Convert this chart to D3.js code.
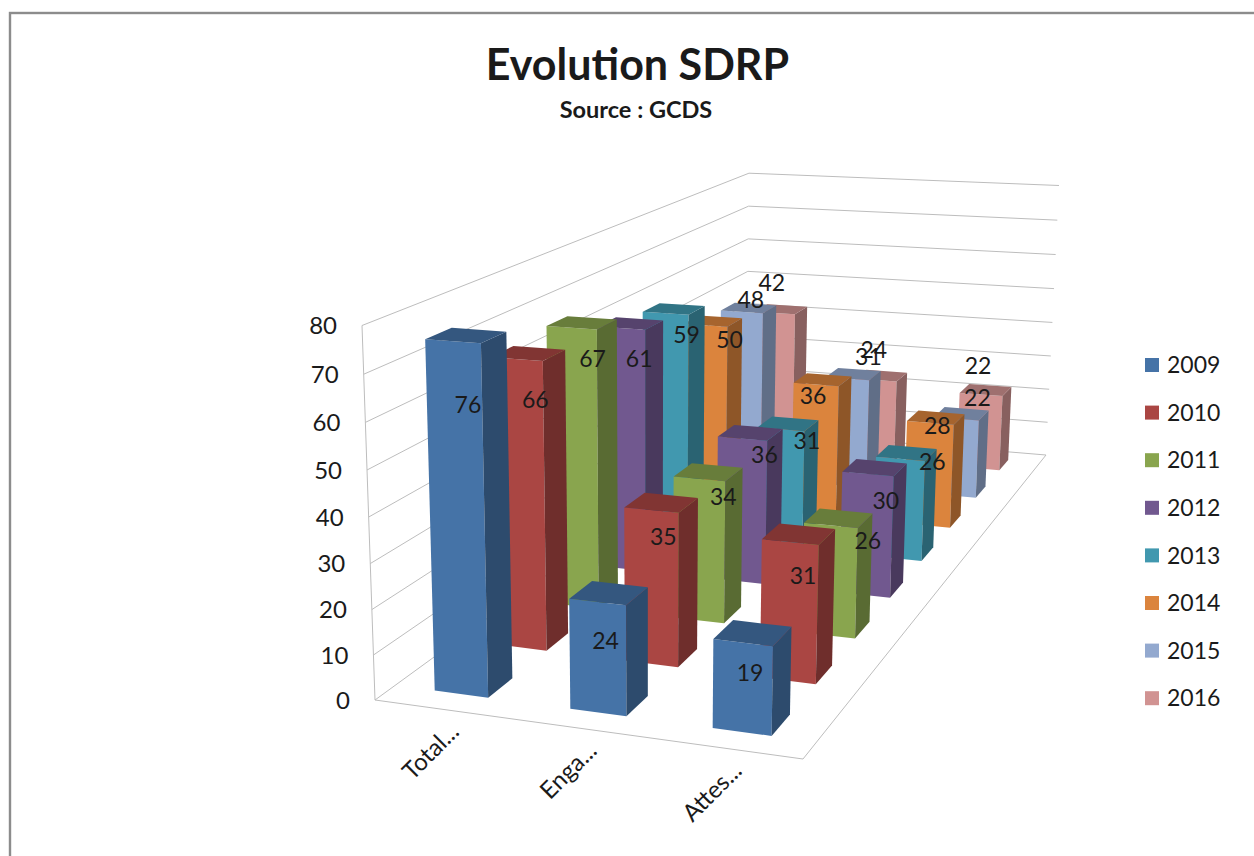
<!DOCTYPE html>
<html>
<head>
<meta charset="utf-8">
<script src="https://cdn.jsdelivr.net/npm/d3@7"></script>
<style>
  html, body { margin: 0; background: #fff; overflow: hidden; }
  text { font-family: Lato, "Noto Sans", sans-serif; fill: #1a1a1a; }
</style>
</head>
<body>
<div id="chart"></div>
<script>
const categories = ["Total...", "Enga...", "Attes..."];
const years = ["2009", "2010", "2011", "2012", "2013", "2014", "2015", "2016"];
const v2009 = [76, 24, 19];
const v2010 = [66, 35, 31];
const v2011 = [67, 34, 26];
const v2012 = [61, 36, 30];
const v2013 = [59, 31, 26];
const v2014 = [50, 36, 28];
const v2015 = [48, 31, 22];
const v2016 = [42, 24, 22];
const valueTicks = [0, 10, 20, 30, 40, 50, 60, 70, 80];
const colours = ["#4573a7", "#aa4643", "#89a54e", "#71588f", "#4198af", "#db843d", "#93a9cf", "#d19392"];

const seriesValues = [v2009, v2010, v2011, v2012, v2013, v2014, v2015, v2016];

// data labels are not centred on the bars in the original, offset from the bar top per year/category
const labelDx = [[15, 8, 7], [19, 12, 13], [21, 24, 37], [18, 22, 18], [21, 26, 32], [24, -3, 7], [9, 21, 21], [-3, -2, -3]];
const labelDy = [[64, 39, 30], [41, 27, 34], [31, 18, 15], [31, 16, 27], [22, 11, 3], [14, 11, 3], [-12, -22, -21], [-30, -30, -29]];

const width = 1254, height = 856;

const svg = d3.select("#chart").append("svg")
  .attr("width", width)
  .attr("height", height);

// outer chart frame, runs off the right and bottom of the picture
svg.append("rect")
  .attr("x", 10).attr("y", 13)
  .attr("width", width + 40).attr("height", height + 40)
  .attr("fill", "none")
  .attr("stroke", "#8c8c8c")
  .attr("stroke-width", 2.4);

// title
svg.append("text")
  .attr("x", 637.5).attr("y", 80)
  .attr("text-anchor", "middle")
  .attr("font-size", 43).attr("font-weight", 700)
  .text("Evolution SDRP");

svg.append("text")
  .attr("x", 636).attr("y", 118)
  .attr("text-anchor", "middle")
  .attr("font-size", 23.5).attr("font-weight", 700)
  .text("Source : GCDS");

// scales work in a unit box: u along the categories, w into the depth, h up
const uScale = d3.scaleBand().domain(categories).range([0, 1]).paddingInner(0.6).paddingOuter(0.3);
const wScale = d3.scaleBand().domain(years).range([0, 1]).paddingInner(0.6).paddingOuter(0.3);
const hScale = d3.scaleLinear().domain([0, 80]).range([0, 1]);

// the floor corners and the wall top give the perspective of the 3d box
const floorFL = [375, 700], floorFR = [803, 759], floorBR = [1046, 455], floorBL = [746, 430];
const wallTop = [362, 325.5];
const cH = -0.045;

const sx = floorFL[0] - floorFR[0] + floorBR[0] - floorBL[0],
  sy = floorFL[1] - floorFR[1] + floorBR[1] - floorBL[1],
  dx1 = floorFR[0] - floorBR[0],
  dx2 = floorBL[0] - floorBR[0],
  dy1 = floorFR[1] - floorBR[1],
  dy2 = floorBL[1] - floorBR[1],
  det = dx1 * dy2 - dx2 * dy1;
const cU = (sx * dy2 - dx2 * sy) / det,
  cW = (dx1 * sy - sx * dy1) / det;
const aU = floorFR[0] - floorFL[0] + cU * floorFR[0],
  aW = floorBL[0] - floorFL[0] + cW * floorBL[0],
  aH = wallTop[0] * (1 + cH) - floorFL[0],
  bU = floorFR[1] - floorFL[1] + cU * floorFR[1],
  bW = floorBL[1] - floorFL[1] + cW * floorBL[1],
  bH = wallTop[1] * (1 + cH) - floorFL[1];

function project(u, w, h) {
  const d = 1 + cU * u + cW * w + cH * h;
  return [
    (aU * u + aW * w + aH * h + floorFL[0]) / d,
    (bU * u + bW * w + bH * h + floorFL[1]) / d
  ];
}

const poly = pts => "M" + pts.map(p => p.join(",")).join("L") + "Z";
const shade = (c, k) => { const r = d3.rgb(c); return d3.rgb(r.r * k, r.g * k, r.b * k).formatHex(); };

// walls
const grid = svg.append("g")
  .attr("fill", "none")
  .attr("stroke", "#bdbdbd")
  .attr("stroke-width", 1);

grid.selectAll(".wall")
  .data(valueTicks)
  .join("path")
  .attr("class", "wall")
  .attr("d", t => {
    const h = hScale(t);
    return d3.line()([project(0, 0, h), project(0, 1, h), project(1, 1, h)]);
  });

grid.append("path").attr("d", d3.line()([project(0, 0, 1), project(0, 0, 0), project(1, 0, 0), project(1, 1, 0)]));

// value labels of the left wall
svg.selectAll(".tick")
  .data(valueTicks)
  .join("text")
  .attr("class", "tick")
  .attr("x", t => project(0, 0, hScale(t))[0] - 25)
  .attr("y", t => project(0, 0, hScale(t))[1])
  .attr("dy", "0.36em")
  .attr("text-anchor", "end")
  .attr("font-size", 24)
  .text(d => d);

// category labels
svg.selectAll(".cat")
  .data(categories)
  .join("text")
  .attr("class", "cat")
  .attr("text-anchor", "end")
  .attr("font-size", 24)
  .attr("transform", c => {
    const p = project(uScale(c) + uScale.bandwidth() * 0.1, 0, 0);
    return `translate(${p[0] + 40},${p[1] + 27}) rotate(-45)`;
  })
  .text(d => d);

// flat list of bars, back row first and left to right so nearer bars paint over
const bars = [];
years.forEach((y, s) => categories.forEach((c, i) => {
  bars.push({ year: y, cat: c, s: s, i: i, value: seriesValues[s][i], colour: colours[s] });
}));
bars.sort((a, b) => d3.descending(a.s, b.s) || d3.ascending(a.i, b.i));

const barG = svg.append("g")
  .selectAll("g")
  .data(bars)
  .join("g");

const u0 = d => uScale(d.cat), u1 = d => uScale(d.cat) + uScale.bandwidth();
const w0 = d => wScale(d.year), w1 = d => wScale(d.year) + wScale.bandwidth();

barG.append("path")
  .attr("fill", d => d.colour)
  .attr("d", d => {
    const h = hScale(d.value);
    return poly([project(u0(d), w0(d), 0), project(u1(d), w0(d), 0), project(u1(d), w0(d), h), project(u0(d), w0(d), h)]);
  });

barG.append("path")
  .attr("fill", d => shade(d.colour, 0.65))
  .attr("d", d => {
    const h = hScale(d.value);
    return poly([project(u1(d), w0(d), 0), project(u1(d), w1(d), 0), project(u1(d), w1(d), h), project(u1(d), w0(d), h)]);
  });

barG.append("path")
  .attr("fill", d => shade(d.colour, 0.76))
  .attr("d", d => {
    const h = hScale(d.value);
    return poly([project(u0(d), w0(d), h), project(u1(d), w0(d), h), project(u1(d), w1(d), h), project(u0(d), w1(d), h)]);
  });

// data labels sit above all the bars
const anchor = d => project(u0(d) + uScale.bandwidth() / 2, w0(d), hScale(d.value));
svg.append("g")
  .selectAll("text")
  .data(bars)
  .join("text")
  .attr("x", d => anchor(d)[0] + labelDx[d.s][d.i])
  .attr("y", d => anchor(d)[1] + labelDy[d.s][d.i])
  .attr("dy", "0.36em")
  .attr("text-anchor", "middle")
  .attr("font-size", 23)
  .text(d => d.value);

// legend
const legend = svg.append("g")
  .selectAll("g")
  .data(years)
  .join("g")
  .attr("transform", (d, i) => `translate(1145,${365 + i * 47.6})`);

legend.append("rect")
  .attr("y", -7).attr("width", 14).attr("height", 14)
  .attr("fill", (d, i) => colours[i]);

legend.append("text")
  .attr("x", 22).attr("dy", "0.36em")
  .attr("font-size", 23)
  .text(d => d);
</script>
</body>
</html>
